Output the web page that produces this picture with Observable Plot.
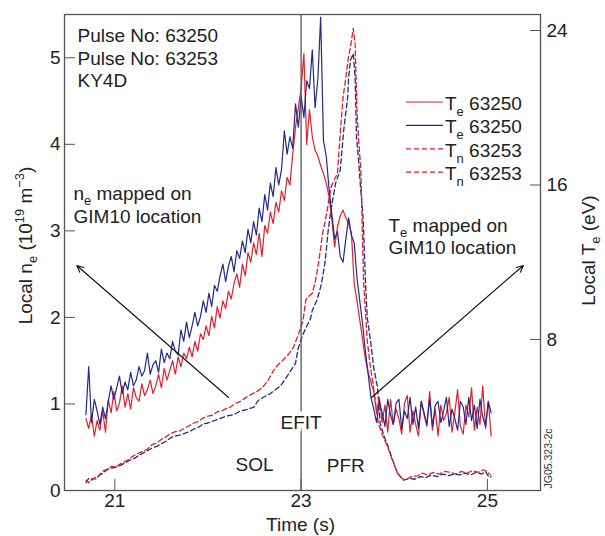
<!DOCTYPE html>
<html><head><meta charset="utf-8">
<script src="https://cdn.jsdelivr.net/npm/d3@7"></script>
<script src="https://cdn.jsdelivr.net/npm/@observablehq/plot@0.6"></script>
<style>
html,body{margin:0;padding:0;background:#fff;}
#chart svg{display:block;}
</style></head><body><div id="chart"></div>
<script>
// ---------- data ----------
const timeDomain = [20.46, 25.57];
const neDomain = [0, 5.5];          // left axis, 10^19 m^-3
const teAxisDomain = [0.18, 24.83]; // right axis, eV
const xTicks = [21, 23, 25];
const neTicks = [0, 1, 2, 3, 4, 5];
const teTicks = [8, 16, 24];
const efitTime = 23;

// Te (eV), sampled every 0.03 s from 20.69 s
const teStart = 20.69, teStep = 0.03;
const te63250Red = [
 3.9, 3.4, 4.1, 3.0, 3.8, 3.3, 4.3, 3.2, 4.9, 4.2,
 5.3, 4.3, 4.7, 5.6, 4.5, 5.2, 4.4, 5.5, 5.0, 4.8,
 5.7, 5.1, 5.4, 5.9, 5.2, 5.6, 6.2, 5.5, 6.5, 5.9,
 6.4, 6.9, 6.2, 7.1, 6.6, 7.3, 7.0, 7.6, 7.1, 7.9,
 7.4, 8.3, 8.0, 8.7, 8.2, 9.2, 8.6, 9.7, 9.1, 10.0,
 9.6, 10.5, 10.1, 10.9, 11.4, 10.7, 11.9, 11.3, 12.5, 12.0,
 13.0, 12.4, 13.5, 12.3, 13.9, 13.5, 14.6, 14.0, 15.1, 14.6,
 15.7, 15.2, 16.4, 16.0, 17.6, 19.0, 20.0, 21.0, 22.8, 18.1,
 19.9, 18.5, 17.8, 17.5, 17.0, 16.6, 16.1, 15.4, 14.2, 12.8,
 13.8, 14.4, 14.7, 14.3, 14.0, 13.5, 10.9, 10.0, 9.0, 8.0,
 7.0, 6.3, 5.8, 5.3, 4.2, 5.0, 3.7, 4.6, 3.2, 4.9,
 3.6, 4.4, 3.9, 3.1, 4.7, 5.1, 3.2, 4.3, 3.6, 3.0,
 4.8, 4.1, 3.5, 5.3, 3.3, 4.4, 3.0, 4.6, 3.8, 4.2,
 5.0, 3.2, 4.2, 5.4, 3.5, 3.1, 4.6, 4.0, 5.5, 3.3,
 4.5, 3.6, 5.6, 3.4, 4.8, 3.0
];
const te63250Blue = [
 4.1, 6.6, 3.7, 4.9, 4.3, 3.6, 4.5, 3.9, 4.8, 5.6,
 4.9, 5.5, 6.1, 5.2, 5.8, 5.4, 6.3, 5.6, 5.9, 6.6,
 6.1, 6.4, 7.3, 6.2, 6.7, 6.9, 6.3, 7.5, 6.8, 7.3,
 7.0, 7.9, 7.4, 7.2, 8.5, 7.9, 8.9, 8.1, 8.7, 9.4,
 8.7, 9.2, 10.0, 9.4, 10.4, 9.7, 10.8, 10.5, 11.3, 11.9,
 11.0, 11.8, 12.3, 11.5, 12.6, 12.2, 13.1, 12.5, 13.7, 13.0,
 14.1, 13.4, 14.8, 14.1, 15.5, 14.7, 16.1, 15.4, 16.9, 16.0,
 16.8, 18.8, 17.6, 18.5, 17.9, 20.2, 19.0, 20.6, 19.5, 21.4,
 21.0, 23.0, 20.0, 21.5, 24.7, 18.3, 17.5, 15.8, 14.5, 13.2,
 13.6, 12.3, 12.0, 13.2, 14.3, 13.4, 13.0, 11.2, 10.0, 8.8,
 7.4, 6.2, 5.0, 4.4, 3.7, 4.8, 4.2, 3.5, 4.9, 4.1,
 3.6, 4.7, 4.9, 3.4, 4.3, 3.9, 5.0, 3.6, 4.5, 3.4,
 4.8, 4.2, 3.6, 4.9, 3.5, 4.6, 4.8, 3.7, 4.3, 5.0,
 3.5, 4.4, 3.9, 3.3, 4.8, 4.5, 3.6, 5.0, 3.8, 4.6,
 3.4, 4.9, 4.0, 3.5, 4.8, 4.2
];

// ne (10^19 m^-3), dashed curves
const ne63253RedTime = [
 20.69, 20.72, 20.76, 20.80, 20.84, 20.88, 20.93, 20.97, 21.01, 21.06,
 21.10, 21.15, 21.20, 21.25, 21.30, 21.35, 21.40, 21.45, 21.50, 21.55,
 21.60, 21.65, 21.70, 21.75, 21.80, 21.85, 21.90, 21.95, 22.00, 22.05,
 22.10, 22.15, 22.20, 22.25, 22.30, 22.35, 22.40, 22.45, 22.50, 22.55,
 22.60, 22.65, 22.70, 22.75, 22.80, 22.87, 22.92, 22.96, 23.02, 23.05,
 23.08, 23.12, 23.15, 23.18, 23.21, 23.23, 23.26, 23.28, 23.32, 23.36,
 23.39, 23.42, 23.45, 23.48, 23.51, 23.53, 23.56, 23.58, 23.60, 23.62,
 23.64, 23.65, 23.66, 23.67, 23.69, 23.71, 23.745, 23.77, 23.83, 23.885,
 23.93, 23.98, 24.035, 24.07, 24.12, 24.18, 24.25, 24.30, 24.36, 24.42,
 24.48, 24.54, 24.60, 24.66, 24.72, 24.78, 24.84, 24.90, 24.96, 25.00, 25.03
];
const ne63253Red = [
 0.12, 0.09, 0.14, 0.13, 0.19, 0.23, 0.25, 0.28, 0.27, 0.31,
 0.33, 0.36, 0.40, 0.43, 0.45, 0.48, 0.53, 0.55, 0.59, 0.62,
 0.66, 0.68, 0.69, 0.72, 0.75, 0.78, 0.80, 0.84, 0.86, 0.87,
 0.91, 0.92, 0.95, 0.97, 1.01, 1.03, 1.07, 1.10, 1.13, 1.16,
 1.21, 1.28, 1.38, 1.45, 1.50, 1.58, 1.66, 1.77, 1.96, 2.20,
 2.24, 2.28, 2.40, 2.58, 2.80, 2.97, 3.12, 3.24, 3.50, 3.60,
 3.66, 4.12, 4.54, 4.77, 5.02, 5.12, 5.34, 5.16, 4.39, 4.01,
 3.73, 3.35, 2.89, 2.43, 2.08, 1.73, 1.42, 1.25, 0.77, 0.61,
 0.50, 0.35, 0.20, 0.15, 0.12, 0.16, 0.17, 0.20, 0.18, 0.21,
 0.19, 0.22, 0.21, 0.19, 0.22, 0.20, 0.23, 0.21, 0.24, 0.22, 0.18
];
const ne63253BlueTime = [
 20.69, 20.72, 20.75, 20.79, 20.83, 20.88, 20.92, 20.97, 21.02, 21.06,
 21.11, 21.16, 21.21, 21.25, 21.30, 21.35, 21.40, 21.45, 21.50, 21.55,
 21.60, 21.65, 21.70, 21.75, 21.80, 21.85, 21.90, 21.95, 22.00, 22.05,
 22.10, 22.15, 22.20, 22.25, 22.30, 22.35, 22.40, 22.45, 22.49, 22.54,
 22.60, 22.67, 22.72, 22.78, 22.85, 22.94, 22.97, 23.02, 23.05, 23.10,
 23.12, 23.17, 23.21, 23.23, 23.26, 23.29, 23.32, 23.37, 23.42, 23.46,
 23.50, 23.51, 23.53, 23.56, 23.58, 23.595, 23.62, 23.64, 23.66, 23.67,
 23.69, 23.71, 23.745, 23.78, 23.82, 23.85, 23.89, 23.93, 23.98, 24.035,
 24.10, 24.16, 24.22, 24.28, 24.34, 24.40, 24.46, 24.52, 24.58, 24.64,
 24.70, 24.76, 24.82, 24.88, 24.94, 24.98, 25.02, 25.04
];
const ne63253Blue = [
 0.09, 0.14, 0.12, 0.15, 0.17, 0.21, 0.24, 0.26, 0.27, 0.29,
 0.32, 0.35, 0.37, 0.40, 0.43, 0.46, 0.49, 0.51, 0.54, 0.57,
 0.61, 0.63, 0.64, 0.66, 0.68, 0.71, 0.73, 0.77, 0.78, 0.80,
 0.82, 0.84, 0.86, 0.87, 0.89, 0.92, 0.93, 0.95, 0.96, 1.04,
 1.08, 1.12, 1.16, 1.21, 1.32, 1.47, 1.65, 1.80, 1.88, 1.98,
 2.08, 2.20, 2.35, 2.46, 2.66, 3.00, 3.24, 3.55, 3.70, 4.19,
 4.54, 4.77, 4.97, 5.05, 4.77, 4.08, 3.78, 3.47, 3.24, 3.04,
 2.43, 2.00, 1.73, 1.42, 1.19, 0.77, 0.63, 0.52, 0.36, 0.20,
 0.12, 0.14, 0.13, 0.16, 0.15, 0.18, 0.16, 0.19, 0.17, 0.19,
 0.18, 0.20, 0.18, 0.21, 0.19, 0.22, 0.15, 0.16
];

// annotation arrows (time, ne)
const arrowTail = [[22.222, 1.075], [23.756, 1.075]];
const arrowHead = [[20.592, 2.60], [25.386, 2.60]];

const legendLabels = ["T_{e} 63250", "T_{e} 63250", "T_{n} 63253", "T_{n} 63253"];
const legendColors = ["red", "blue", "red", "red"];
const legendDashed = [false, false, true, true];

// ---------- styling ----------
const W = 605, H = 536;
const M = {left: 64, right: 65, top: 14, bottom: 46};
const COLORS = {red: "#e41f2b", blue: "#25298a"};
const ink = "#222", frameGray = "#555";
const FONT = "'Liberation Sans', Arial, Helvetica, sans-serif";

const teToNe = te => (te - teAxisDomain[0]) / (teAxisDomain[1] - teAxisDomain[0]) * (neDomain[1] - neDomain[0]);
const neToTe = ne => teAxisDomain[0] + ne / (neDomain[1] - neDomain[0]) * (teAxisDomain[1] - teAxisDomain[0]);

const teRed = te63250Red.map((v, i) => ({t: teStart + i * teStep, y: teToNe(v)}));
const teBlue = te63250Blue.map((v, i) => ({t: teStart + i * teStep, y: teToNe(v)}));
const neRed = ne63253Red.map((v, i) => ({t: ne63253RedTime[i], y: v}));
const neBlue = ne63253Blue.map((v, i) => ({t: ne63253BlueTime[i], y: v}));
const arrows = arrowTail.map((a, i) => ({x1: a[0], y1: a[1], x2: arrowHead[i][0], y2: arrowHead[i][1]}));

function label(text, opts) {
  return Plot.text([text], {lineAnchor: "bottom", textAnchor: "start", fill: ink, ...opts});
}

const chart = Plot.plot({
  width: W, height: H,
  marginLeft: M.left, marginRight: M.right, marginTop: M.top, marginBottom: M.bottom,
  x: {domain: timeDomain},
  y: {domain: neDomain},
  style: {fontFamily: FONT, fontSize: "19px", color: ink, background: "white"},
  marks: [
    Plot.line(neBlue, {x: "t", y: "y", stroke: COLORS.blue, strokeWidth: 1.3, strokeDasharray: "5,3"}),
    Plot.line(neRed, {x: "t", y: "y", stroke: COLORS.red, strokeWidth: 1.3, strokeDasharray: "5,3"}),
    Plot.line(teRed, {x: "t", y: "y", stroke: COLORS.red, strokeWidth: 1.2}),
    Plot.line(teBlue, {x: "t", y: "y", stroke: COLORS.blue, strokeWidth: 1.2}),
    Plot.ruleX([efitTime], {stroke: frameGray, strokeWidth: 1.3}),
    Plot.text(["EFIT"], {x: efitTime, frameAnchor: "bottom", dy: -62, lineAnchor: "bottom", textAnchor: "middle", fill: ink, stroke: "white", strokeWidth: 9}),
    Plot.text(["SOL"], {x: 22.5, frameAnchor: "bottom", dy: -20, lineAnchor: "bottom", textAnchor: "middle", fill: ink}),
    Plot.text(["PFR"], {x: 23.48, frameAnchor: "bottom", dy: -19, lineAnchor: "bottom", textAnchor: "middle", fill: ink}),
    Plot.arrow(arrows, {x1: "x1", y1: "y1", x2: "x2", y2: "y2", stroke: "#111", strokeWidth: 1.1, headLength: 10, headAngle: 50}),
    Plot.frame({stroke: frameGray, strokeWidth: 1.3}),
    Plot.axisX(xTicks, {tickSize: -11, tickPadding: 14, label: null, stroke: frameGray, fill: ink, tickFormat: d => String(d)}),
    Plot.axisY(neTicks, {anchor: "left", tickSize: -11, tickPadding: 15, label: null, stroke: frameGray, fill: ink, tickFormat: d => String(d)}),
    Plot.axisY(teTicks.map(teToNe), {anchor: "right", tickSize: -11, tickPadding: 17, label: null, stroke: frameGray, fill: ink,
      tickFormat: d => String(Math.round(neToTe(d)))}),
    label("Pulse No: 63250", {frameAnchor: "top-left", dx: 13, dy: 27}),
    label("Pulse No: 63253", {frameAnchor: "top-left", dx: 13, dy: 50}),
    label("KY4D", {frameAnchor: "top-left", dx: 13, dy: 72}),
    label("n_{e} mapped on", {frameAnchor: "top-left", dx: 9, dy: 185}),
    label("GIM10 location", {frameAnchor: "top-left", dx: 9, dy: 208}),
    label("T_{e} mapped on", {frameAnchor: "top-left", dx: 324, dy: 217}),
    label("GIM10 location", {frameAnchor: "top-left", dx: 324, dy: 239}),
    label("Time (s)", {frameAnchor: "bottom", dx: -2, dy: 40, textAnchor: "middle"}),
    label("Local n_{e} (10^{19} m^{−3})", {frameAnchor: "left", dx: -39, dy: -7, rotate: -90, textAnchor: "middle", lineAnchor: "middle"}),
    label("Local T_{e} (eV)", {frameAnchor: "right", dx: 48, dy: -2, rotate: -90, textAnchor: "middle", lineAnchor: "middle"}),
    label("JG05.323-2c", {frameAnchor: "bottom-right", dx: 8, dy: -2, rotate: -90, textAnchor: "start", lineAnchor: "middle", fontSize: 10.5, fill: "#333"})
  ]
});
document.getElementById("chart").appendChild(chart);

// ---------- legend (inside the frame, top right) ----------
const svg = d3.select(chart);
const lg = svg.append("g").attr("font-family", FONT).attr("font-size", 19).attr("fill", ink).attr("text-anchor", "start");
const lgLeft = W - M.right - 134, lgTop = M.top + 88, lgRow = 23.4;
legendLabels.forEach((lab, i) => {
  const y = lgTop + i * lgRow;
  lg.append("line").attr("x1", lgLeft).attr("x2", lgLeft + 37).attr("y1", y).attr("y2", y)
    .attr("stroke", COLORS[legendColors[i]]).attr("stroke-width", 1.2)
    .attr("stroke-dasharray", legendDashed[i] ? "5,3" : null);
  lg.append("text").attr("x", lgLeft + 39).attr("y", y + 8).attr("text-anchor", "start").text(lab);
});

// ---------- sub/superscripts ----------
svg.selectAll("text").each(function () {
  const s = this.textContent;
  if (!/[_^]\{/.test(s)) return;
  const fs = parseFloat(getComputedStyle(this).fontSize) || 19;
  const parts = s.split(/([_^]\{[^}]*\})/).filter(p => p !== "");
  this.textContent = "";
  let shift = 0;
  for (const p of parts) {
    const m = p.match(/^([_^])\{([^}]*)\}$/);
    const ts = d3.select(this).append("tspan");
    if (m) {
      const target = m[1] === "_" ? fs * 0.3 : -fs * 0.42;
      ts.attr("dy", (target - shift).toFixed(2)).attr("font-size", (fs * 0.68).toFixed(1)).text(m[2]);
      shift = target;
    } else {
      if (shift !== 0) ts.attr("dy", (-shift).toFixed(2));
      ts.text(p);
      shift = 0;
    }
  }
});
</script></body></html>
